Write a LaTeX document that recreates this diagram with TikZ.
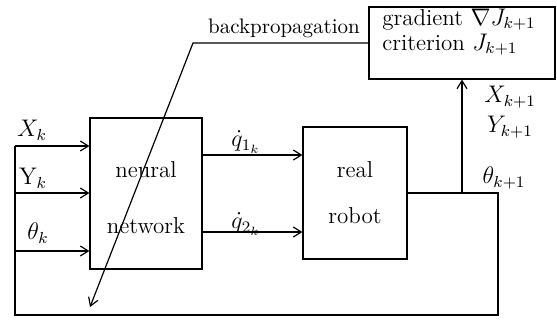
\documentclass[tikz,border=0pt]{standalone}
\usetikzlibrary{arrows.meta}
\begin{document}
\begin{tikzpicture}[x=0.5pt,y=-0.5pt,
  box/.style={draw,line width=0.6pt,inner sep=0pt,align=center},
  conn/.style={line width=0.6pt},
  arr/.style={conn,-{Straight Barb[length=4pt,width=5pt]}},
  lbl/.style={inner sep=0pt,font=\fontsize{11.5}{14}\selectfont}]
\useasboundingbox (0,0) rectangle (557,329);
% boxes
\node[box,minimum width=56pt,minimum height=75.5pt] (nn) at (146,193.5) {};
\node[lbl] (nnt1) at (146,170) {neural};
\node[lbl] (nnt2) at (146,226) {network};
\node[box,minimum width=52pt,minimum height=66pt] (robot) at (355,193) {};
\node[lbl] (rt1) at (355,170) {real};
\node[lbl] (rt2) at (355,216) {robot};
\node[box,minimum width=93pt,minimum height=36pt] (grad) at (462,43) {};
\node[lbl,anchor=base west] (g1) at (382,25) {gradient $\nabla J_{k+1}$};
\node[lbl,anchor=base west] (g2) at (382,50) {criterion $J_{k+1}$};
% coordinates
\coordinate (xin) at (15,146);
\coordinate (yin) at (15,193);
\coordinate (tin) at (15,251);
\coordinate (bl) at (15,315);
\coordinate (br) at (498,315);
\coordinate (q1) at (0,155);
\coordinate (q2) at (0,232);
\coordinate (bk) at (193,43);
\coordinate (bt) at (90,307);
% inputs
\draw[arr] (xin) -- (nn.west |- xin);
\draw[arr] (yin) -- (nn.west |- yin);
\draw[arr] (tin) -- (nn.west |- tin);
% outputs of NN
\draw[arr] (nn.east |- q1) -- (robot.west |- q1);
\draw[arr] (nn.east |- q2) -- (robot.west |- q2);
% feedback loop
\draw[conn] (robot.east) -| (br) -- (bl) -- (xin);
\draw[arr] (grad.south |- robot.east) -- (grad.south);
% backprop
\draw[arr] (grad.west) -- (bk) -- (bt);
% labels
\node[lbl] (lx) at (32,130) {$X_k$};
\node[lbl] (ly) at (33,178) {$\mathrm{Y}_k$};
\node[lbl] (lt) at (38,233) {$\theta_k$};
\node[lbl] (lq1) at (246,142) {$\dot q_{1_k}$};
\node[lbl] (lq2) at (246,224) {$\dot q_{2_k}$};
\node[lbl] (lx1) at (510,97) {$X_{k+1}$};
\node[lbl] (ly1) at (510,127) {$Y_{k+1}$};
\node[lbl] (lt1) at (504,178) {$\theta_{k+1}$};
\node[lbl,font=\fontsize{10.5}{13}\selectfont] (bp) at (284,28) {backpropagation};
\end{tikzpicture}
\end{document}
